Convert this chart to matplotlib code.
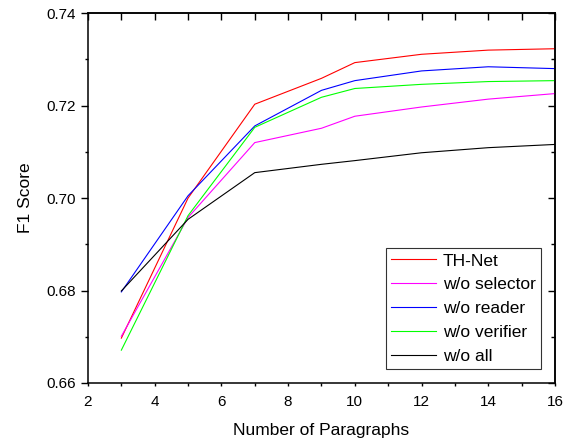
import matplotlib.pyplot as plt
from matplotlib.ticker import MultipleLocator

plt.rcParams['font.family'] = ['Liberation Sans', 'DejaVu Sans']

paragraphs = [3, 5, 7, 9, 10, 12, 14, 16]
th_net = [0.6697, 0.7000, 0.7203, 0.7259, 0.7293, 0.7311, 0.7320, 0.7323]
wo_selector = [0.6701, 0.6958, 0.7120, 0.7151, 0.7177, 0.7197, 0.7214, 0.7226]
wo_reader = [0.6797, 0.7005, 0.7156, 0.7233, 0.7254, 0.7275, 0.7284, 0.7280]
wo_verifier = [0.6671, 0.6962, 0.7153, 0.7218, 0.7237, 0.7246, 0.7252, 0.7254]
wo_all = [0.6799, 0.6954, 0.7055, 0.7073, 0.7081, 0.7098, 0.7109, 0.7116]

series = [
    ("TH-Net", th_net, '#ff0000'),
    ("w/o selector", wo_selector, '#ff00ff'),
    ("w/o reader", wo_reader, '#0000ff'),
    ("w/o verifier", wo_verifier, '#00ff00'),
    ("w/o all", wo_all, '#000000'),
]

fig = plt.figure(figsize=(5.64, 4.38), dpi=100)
ax = fig.add_axes([0.156, 0.1256, 0.828, 0.8444])

for label, values, color in series:
    ax.plot(paragraphs, values, color=color, linewidth=0.8, label=label)

ax.set_xlim(2, 16)
ax.set_ylim(0.66, 0.74)
ax.xaxis.set_major_locator(MultipleLocator(2))
ax.xaxis.set_minor_locator(MultipleLocator(1))
ax.yaxis.set_major_locator(MultipleLocator(0.02))
ax.yaxis.set_minor_locator(MultipleLocator(0.01))
ax.yaxis.set_major_formatter(lambda v, p: f"{v:.2f}")

ax.tick_params(axis='both', which='major', direction='out', length=5, width=1, labelsize=11)
ax.tick_params(axis='both', which='minor', direction='out', length=2.5, width=1)
ax.tick_params(axis='x', which='both', length=2.5, pad=6)

# mirrored ticks on top/right, pointing inward
top = ax.secondary_xaxis('top')
top.xaxis.set_major_locator(MultipleLocator(2))
top.xaxis.set_minor_locator(MultipleLocator(1))
top.tick_params(which='both', direction='in', length=5, width=1, labeltop=False)
right = ax.secondary_yaxis('right')
right.yaxis.set_major_locator(MultipleLocator(0.02))
right.yaxis.set_minor_locator(MultipleLocator(0.01))
right.tick_params(which='major', direction='in', length=5, width=1, labelright=False)
right.tick_params(which='minor', direction='in', length=3, width=1)

for sp in list(ax.spines.values()) + [top.spines['top'], right.spines['right']]:
    sp.set_linewidth(1.1)

ax.set_xlabel('Number of Paragraphs', fontsize=12.5, labelpad=10)
ax.set_ylabel('F1 Score', fontsize=12.5, labelpad=10)

leg = ax.legend(loc='lower right', fontsize=12.5, frameon=True, fancybox=False,
                handlelength=2.6, handletextpad=0.4, labelspacing=0.5,
                borderpad=0.3, borderaxespad=0.8)
leg.get_frame().set_edgecolor('black')
leg.get_frame().set_linewidth(0.8)

fig.savefig('out.png', dpi=100)
